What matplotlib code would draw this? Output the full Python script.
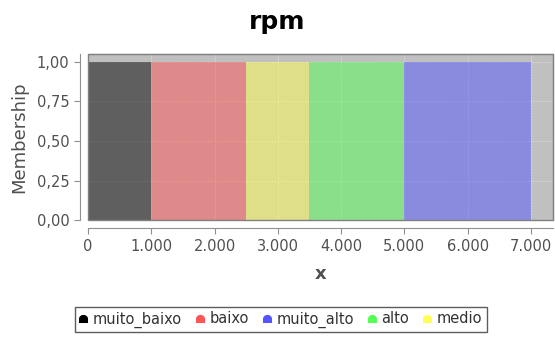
import numpy as np
import matplotlib.pyplot as plt
from matplotlib.path import Path
from matplotlib.lines import Line2D
from matplotlib.ticker import FuncFormatter

# membership sets for "rpm" (start, end of each crisp interval)
set_names = ["muito_baixo", "baixo", "medio", "alto", "muito_alto"]
set_start = [0, 1000, 2500, 3500, 5000]
set_end = [1000, 2500, 3500, 5000, 7000]
set_height = [1.0, 1.0, 1.0, 1.0, 1.0]
set_colors = {"muito_baixo": "#000000", "baixo": "#ff5555", "medio": "#ffff55",
              "alto": "#55ff55", "muito_alto": "#5555ff"}
legend_order = ["muito_baixo", "baixo", "muito_alto", "alto", "medio"]

x_ticks = [0, 1000, 2000, 3000, 4000, 5000, 6000, 7000]
y_ticks = [0, 0.25, 0.5, 0.75, 1.0]

GRAY = "#505050"

fig = plt.figure(figsize=(5.55, 3.37), dpi=100)
ax = fig.add_axes([0.1586, 0.347, 0.8378, 0.4928])
ax.set_facecolor("#c0c0c0")

for name, a, b, h in zip(set_names, set_start, set_end, set_height):
    ax.fill_between([a, b], [h, h], 0, color=set_colors[name], alpha=0.5,
                    linewidth=0, zorder=2)

ax.set_xlim(0, 7350)
ax.set_ylim(0, 1.05)
ax.set_xticks(x_ticks)
ax.set_yticks(y_ticks)
ax.xaxis.set_major_formatter(FuncFormatter(lambda v, p: f"{int(v):,}".replace(",", ".")))
ax.yaxis.set_major_formatter(FuncFormatter(lambda v, p: f"{v:.2f}".replace(".", ",")))
ax.grid(True, color="#e8e8e8", linestyle=(0, (2, 2)), linewidth=0.5, zorder=1)
ax.set_axisbelow(True)

for s in ["top", "right"]:
    ax.spines[s].set_color("#808080")
for s in ["left", "bottom"]:
    ax.spines[s].set_position(("outward", 6))
    ax.spines[s].set_color("#909090")
# border around plot area
ax.add_patch(plt.Rectangle((0, 0), 1, 1, transform=ax.transAxes, fill=False,
                           edgecolor="#808080", linewidth=1, zorder=5, clip_on=False))
ax.tick_params(colors="#909090", labelcolor=GRAY, labelsize=10.5, length=4, width=0.8)

ax.set_xlabel("x", fontsize=13, color=GRAY, fontweight="bold", labelpad=8)
ax.set_ylabel("Membership", fontsize=13, color=GRAY, labelpad=6)
fig.text(0.5, 0.935, "rpm", ha="center", va="center", fontsize=18, fontweight="bold")

# bell-shaped legend marker
t = np.linspace(np.pi, 0, 20)
verts = [(-1, -1)] + [(np.cos(a), np.sin(a) * 0.9 - 0.1) for a in t] + [(1, -1), (-1, -1)]
bell = Path(verts)

handles = [Line2D([], [], linestyle="none", marker=bell, markersize=6.5,
                  markerfacecolor=set_colors[n], markeredgewidth=0) for n in legend_order]
leg = fig.legend(handles, legend_order, loc="center", bbox_to_anchor=(0.506, 0.052),
                 ncol=5, fontsize=10.5, frameon=True, fancybox=False,
                 handlelength=0.5, handletextpad=0.4, columnspacing=1.0,
                 borderpad=0.3, borderaxespad=0)
leg.get_frame().set_edgecolor("#333333")
leg.get_frame().set_linewidth(1.0)
for txt in leg.get_texts():
    txt.set_color("#333333")

fig.savefig("out.png", dpi=100)
